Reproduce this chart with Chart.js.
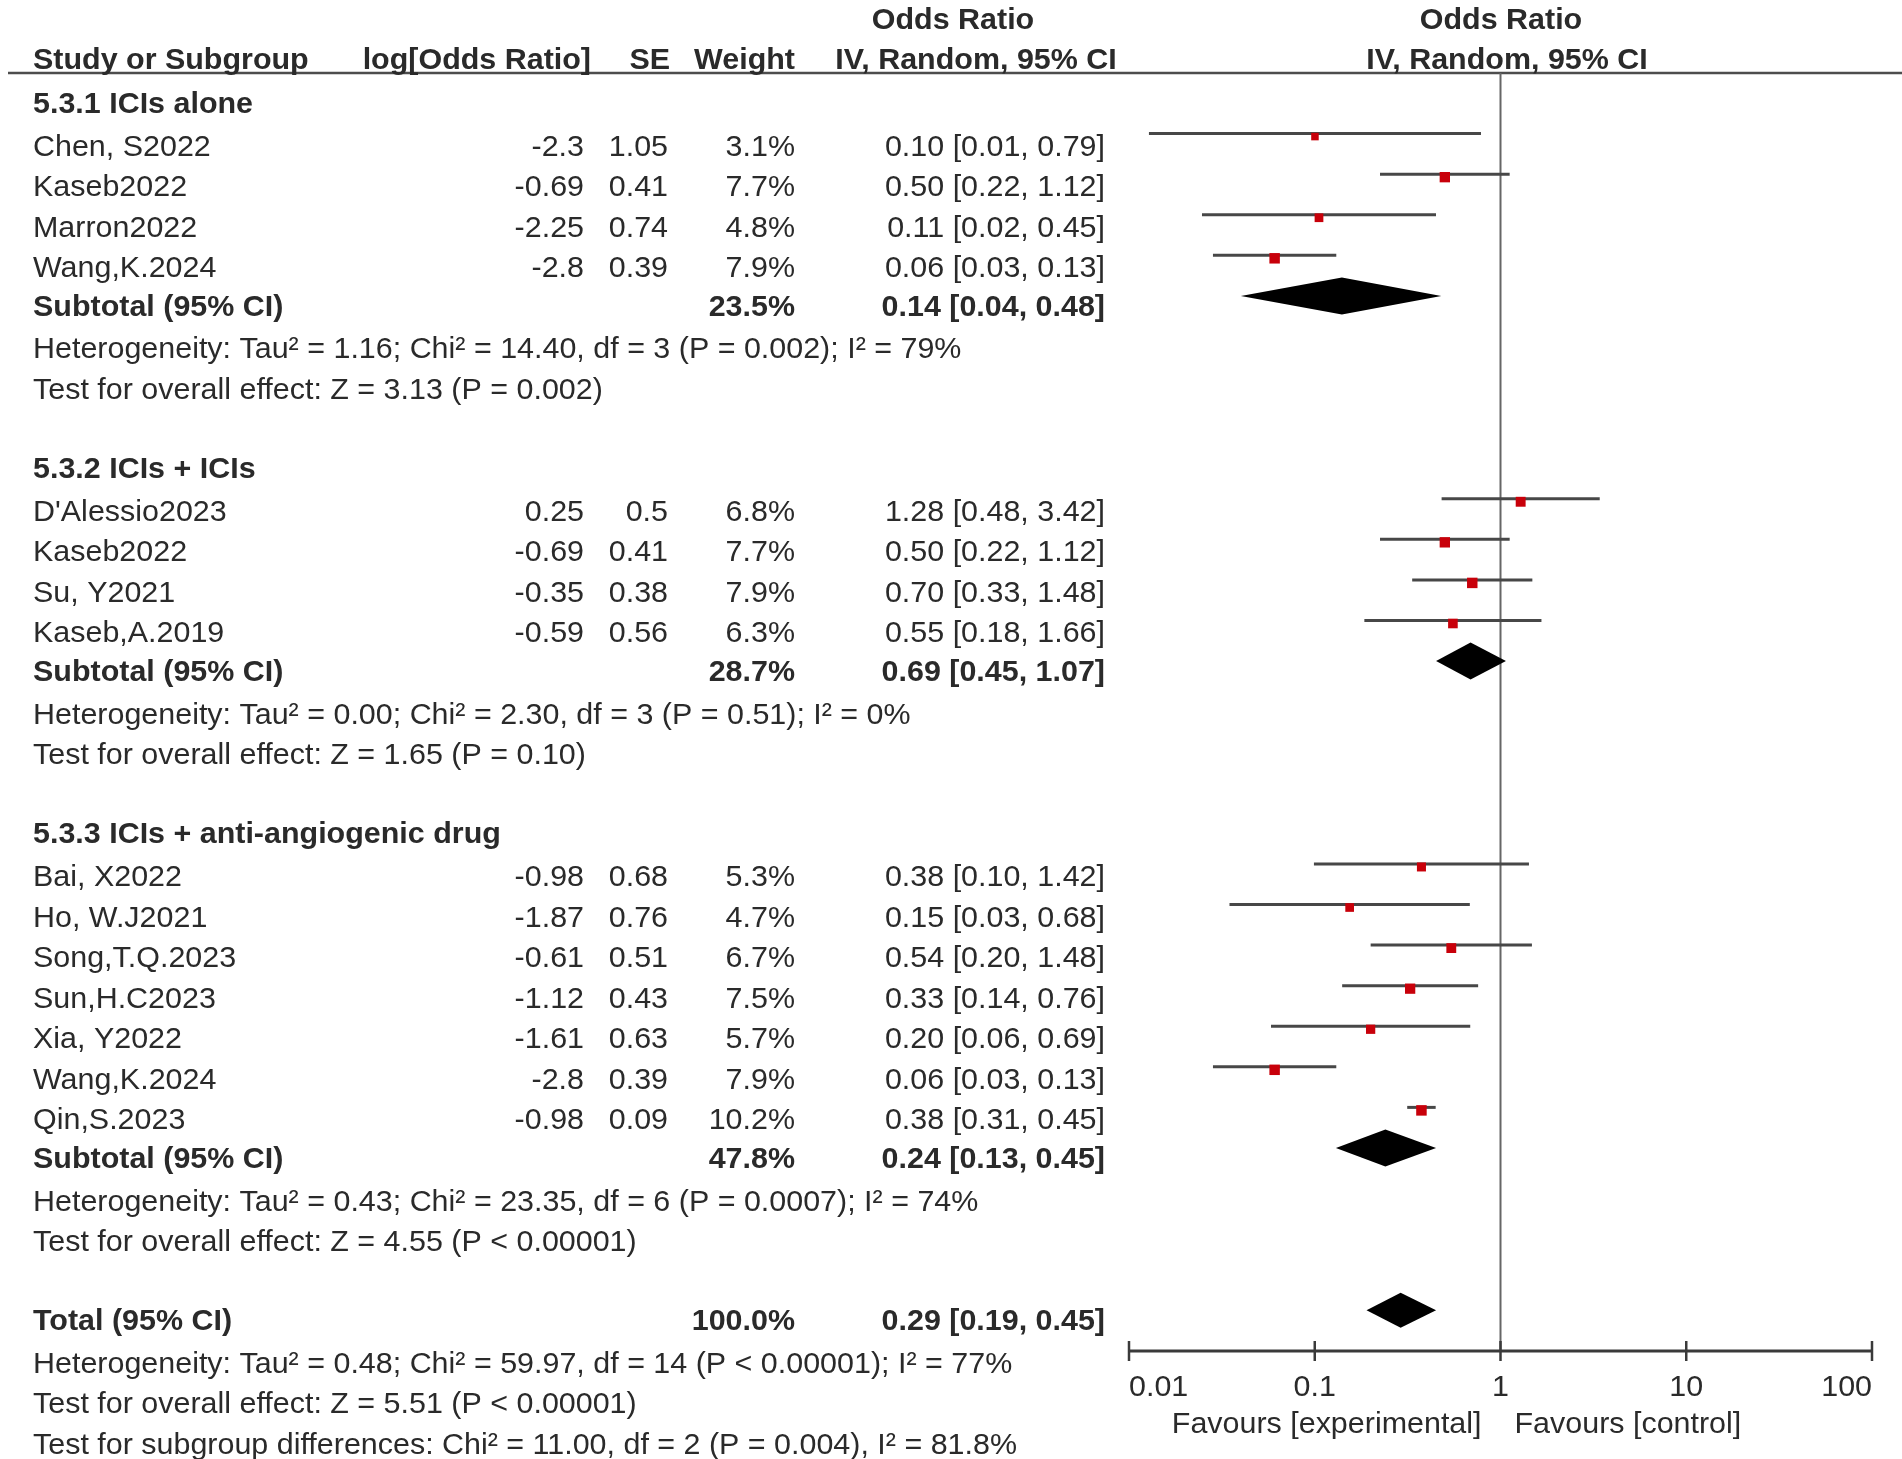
<!DOCTYPE html>
<html lang="en">
<head>
<meta charset="UTF-8" />
<title>Forest plot - Odds Ratio</title>
<script src="https://cdn.jsdelivr.net/npm/chart.js"></script>
<style>
  html, body { margin: 0; padding: 0; background: #fff; overflow: hidden; }
  canvas { display: block; }
</style>
</head>
<body>
<canvas id="forest" width="1902" height="1459"></canvas>
<script>
// studies, in the order they are plotted (row index = line in the table)
const studyNames = ['Chen, S2022', 'Kaseb2022', 'Marron2022', 'Wang,K.2024',
  "D'Alessio2023", 'Kaseb2022', 'Su, Y2021', 'Kaseb,A.2019',
  'Bai, X2022', 'Ho, W.J2021', 'Song,T.Q.2023', 'Sun,H.C2023', 'Xia, Y2022', 'Wang,K.2024', 'Qin,S.2023'];
const studyRows = [1, 2, 3, 4, 10, 11, 12, 13, 19, 20, 21, 22, 23, 24, 25];
const logOdds = [-2.3, -0.69, -2.25, -2.8, 0.25, -0.69, -0.35, -0.59, -0.98, -1.87, -0.61, -1.12, -1.61, -2.8, -0.98];
const stdErr = [1.05, 0.41, 0.74, 0.39, 0.5, 0.41, 0.38, 0.56, 0.68, 0.76, 0.51, 0.43, 0.63, 0.39, 0.09];
const weights = [3.1, 7.7, 4.8, 7.9, 6.8, 7.7, 7.9, 6.3, 5.3, 4.7, 6.7, 7.5, 5.7, 7.9, 10.2];

const groupNames = ['5.3.1 ICIs alone', '5.3.2 ICIs + ICIs', '5.3.3 ICIs + anti-angiogenic drug'];
const groupRows = [0, 9, 18];

// subtotals and overall total
const pooledLabels = ['Subtotal (95% CI)', 'Subtotal (95% CI)', 'Subtotal (95% CI)', 'Total (95% CI)'];
const pooledRows = [5, 14, 26, 30];
const pooledWeight = [23.5, 28.7, 47.8, 100.0];
const pooledOR = [0.14, 0.69, 0.24, 0.29];
const pooledLo = [0.04, 0.45, 0.13, 0.19];
const pooledHi = [0.48, 1.07, 0.45, 0.45];

const noteTexts = [
  'Heterogeneity: Tau² = 1.16; Chi² = 14.40, df = 3 (P = 0.002); I² = 79%',
  'Test for overall effect: Z = 3.13 (P = 0.002)',
  'Heterogeneity: Tau² = 0.00; Chi² = 2.30, df = 3 (P = 0.51); I² = 0%',
  'Test for overall effect: Z = 1.65 (P = 0.10)',
  'Heterogeneity: Tau² = 0.43; Chi² = 23.35, df = 6 (P = 0.0007); I² = 74%',
  'Test for overall effect: Z = 4.55 (P < 0.00001)',
  'Heterogeneity: Tau² = 0.48; Chi² = 59.97, df = 14 (P < 0.00001); I² = 77%',
  'Test for overall effect: Z = 5.51 (P < 0.00001)',
  'Test for subgroup differences: Chi² = 11.00, df = 2 (P = 0.004), I² = 81.8%'
];
const noteRows = [6, 7, 15, 16, 27, 28, 31, 32, 33];

const axisTicks = [0.01, 0.1, 1, 10, 100];
const axisTickLabels = ['0.01', '0.1', '1', '10', '100'];
const favourLabels = ['Favours [experimental]', 'Favours [control]'];

const FONT = '"Liberation Sans", Arial, Helvetica, sans-serif';
const INK = '#2a2a2a';

function label(ctx, s, x, y, align, bold) {
  ctx.save();
  ctx.font = (bold ? 'bold ' : '') + '30px ' + FONT;
  ctx.fillStyle = INK;
  ctx.textAlign = align;
  ctx.textBaseline = 'alphabetic';
  ctx.translate(x, y);
  ctx.scale(1.015, 1);
  ctx.fillText(s, 0, 0);
  ctx.restore();
}

const ci = (v) => v.toFixed(2);

const forestPlugin = {
  id: 'forest',
  beforeDatasetsDraw(chart) {
    const { ctx, chartArea: a, scales: { x, y } } = chart;
    ctx.save();
    // header rule
    ctx.strokeStyle = '#4d4d4d';
    ctx.lineWidth = 2.5;
    ctx.beginPath();
    ctx.moveTo(8, a.top);
    ctx.lineTo(chart.width, a.top);
    ctx.stroke();
    // line of no effect
    const x1 = x.getPixelForValue(1);
    ctx.strokeStyle = '#666';
    ctx.lineWidth = 2;
    ctx.beginPath();
    ctx.moveTo(x1, a.top);
    ctx.lineTo(x1, a.bottom);
    ctx.stroke();
    // confidence intervals
    ctx.strokeStyle = '#474747';
    ctx.lineWidth = 3;
    studyRows.forEach((r, i) => {
      const yy = y.getPixelForValue(r) - 3;
      const lo = x.getPixelForValue(Math.exp(logOdds[i] - 1.96 * stdErr[i]));
      const hi = x.getPixelForValue(Math.exp(logOdds[i] + 1.96 * stdErr[i]));
      ctx.beginPath();
      ctx.moveTo(lo, yy);
      ctx.lineTo(hi, yy);
      ctx.stroke();
    });
    // pooled diamonds
    ctx.fillStyle = '#000';
    pooledRows.forEach((r, i) => {
      const yy = y.getPixelForValue(r) - 3;
      const l = x.getPixelForValue(pooledLo[i]);
      const c = x.getPixelForValue(pooledOR[i]);
      const h = x.getPixelForValue(pooledHi[i]);
      const hh = i === 3 ? 17.5 : 18.5;
      ctx.beginPath();
      ctx.moveTo(l, yy);
      ctx.lineTo(c, yy - hh);
      ctx.lineTo(h, yy);
      ctx.lineTo(c, yy + hh);
      ctx.closePath();
      ctx.fill();
    });
    ctx.restore();
  },
  afterDraw(chart) {
    const { ctx, chartArea: a, scales: { x, y } } = chart;
    const base = (r) => y.getPixelForValue(r) + 19;

    // column headers
    label(ctx, 'Odds Ratio', 953, a.top - 44, 'center', true);
    label(ctx, 'Odds Ratio', 1501, a.top - 44, 'center', true);
    label(ctx, 'Study or Subgroup', 33, a.top - 4, 'left', true);
    label(ctx, 'log[Odds Ratio]', 591, a.top - 4, 'right', true);
    label(ctx, 'SE', 670, a.top - 4, 'right', true);
    label(ctx, 'Weight', 795, a.top - 4, 'right', true);
    label(ctx, 'IV, Random, 95% CI', 976, a.top - 4, 'center', true);
    label(ctx, 'IV, Random, 95% CI', 1507, a.top - 4, 'center', true);

    groupRows.forEach((r, i) => label(ctx, groupNames[i], 33, base(r) - 2, 'left', true));

    studyRows.forEach((r, i) => {
      const b = base(r);
      const est = Math.exp(logOdds[i]);
      const lo = Math.exp(logOdds[i] - 1.96 * stdErr[i]);
      const hi = Math.exp(logOdds[i] + 1.96 * stdErr[i]);
      label(ctx, studyNames[i], 33, b, 'left', false);
      label(ctx, String(logOdds[i]), 584, b, 'right', false);
      label(ctx, String(stdErr[i]), 668, b, 'right', false);
      label(ctx, weights[i].toFixed(1) + '%', 795, b, 'right', false);
      label(ctx, ci(est) + ' [' + ci(lo) + ', ' + ci(hi) + ']', 1105, b, 'right', false);
    });

    pooledRows.forEach((r, i) => {
      const b = base(r) - 2;
      label(ctx, pooledLabels[i], 33, b, 'left', true);
      label(ctx, pooledWeight[i].toFixed(1) + '%', 795, b, 'right', true);
      label(ctx, ci(pooledOR[i]) + ' [' + ci(pooledLo[i]) + ', ' + ci(pooledHi[i]) + ']', 1105, b, 'right', true);
    });

    noteRows.forEach((r, i) => label(ctx, noteTexts[i], 33, base(r), 'left', false));

    // x axis
    const ay = a.bottom;
    ctx.save();
    ctx.strokeStyle = '#3a3a3a';
    ctx.lineWidth = 3;
    ctx.beginPath();
    ctx.moveTo(x.getPixelForValue(axisTicks[0]), ay);
    ctx.lineTo(x.getPixelForValue(axisTicks[axisTicks.length - 1]), ay);
    ctx.stroke();
    ctx.lineWidth = 2.5;
    axisTicks.forEach((t) => {
      const px = x.getPixelForValue(t);
      ctx.beginPath();
      ctx.moveTo(px, ay - 10);
      ctx.lineTo(px, ay + 10);
      ctx.stroke();
    });
    ctx.restore();
    axisTicks.forEach((t, i) => {
      const align = i === 0 ? 'left' : (i === axisTicks.length - 1 ? 'right' : 'center');
      label(ctx, axisTickLabels[i], x.getPixelForValue(t), ay + 45, align, false);
    });
    const x1 = x.getPixelForValue(1);
    label(ctx, favourLabels[0], x1 - 19, ay + 82, 'right', false);
    label(ctx, favourLabels[1], x1 + 14, ay + 82, 'left', false);
  }
};

new Chart(document.getElementById('forest'), {
  type: 'scatter',
  data: {
    datasets: [{
      data: studyRows.map((r, i) => ({ x: Math.exp(logOdds[i]), y: r })),
      pointStyle: 'rect',
      pointRadius: weights.map((w) => Math.min(10.5, 2.6 + 2.8 * Math.sqrt(w)) / Math.SQRT2),
      pointBackgroundColor: '#c8000a',
      pointBorderWidth: 0
    }]
  },
  options: {
    responsive: false,
    animation: false,
    events: [],
    layout: { padding: { left: 1129, right: 30, top: 73, bottom: 108 } },
    scales: {
      x: { type: 'logarithmic', min: 0.01, max: 100, display: false },
      y: { type: 'linear', reverse: true, min: -0.567, max: 30.93, display: false }
    },
    plugins: {
      legend: { display: false },
      tooltip: { enabled: false }
    }
  },
  plugins: [forestPlugin]
});
</script>
</body>
</html>
